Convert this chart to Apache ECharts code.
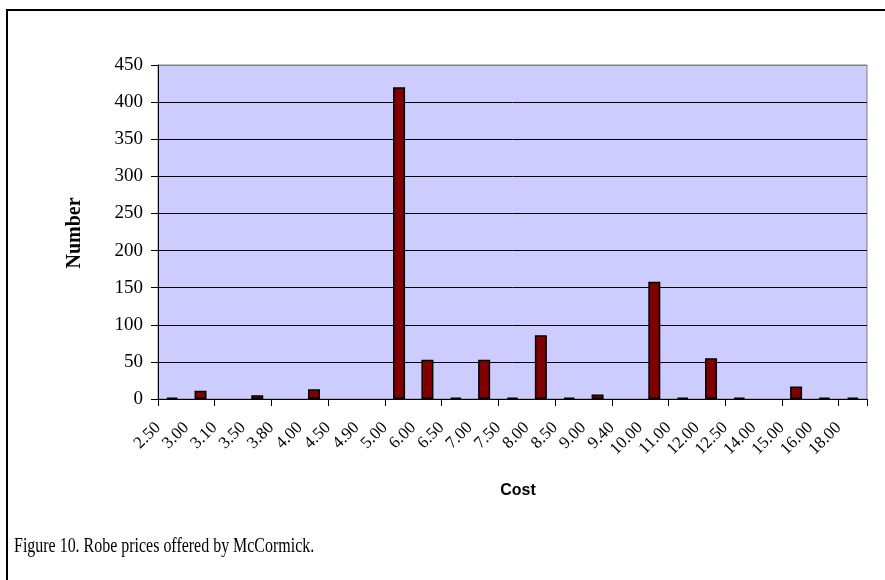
<!DOCTYPE html>
<html>
<head>
<meta charset="utf-8">
<script src="https://cdn.jsdelivr.net/npm/echarts@6/dist/echarts.min.js"></script>
<style>
html,body{margin:0;padding:0;background:#fff;}
#chart{width:885px;height:580px;}
</style>
</head>
<body>
<div id="chart"></div>
<script>
const categories = ['2.50','3.00','3.10','3.50','3.80','4.00','4.50','4.90','5.00','6.00','6.50','7.00','7.50','8.00','8.50','9.00','9.40','10.00','11.00','12.00','12.50','14.00','15.00','16.00','18.00'];
const counts = [2,11,0,5,0,13,0,0,420,53,2,53,2,86,2,6,0,158,2,55,2,0,17,2,2];
const yTicks = {min:0, max:450, interval:50};
const caption = 'Figure 10. Robe prices offered by McCormick.';

const chart = echarts.init(document.getElementById('chart'), null, {renderer:'canvas'});
const gridL = 158, gridR = 18, gridT = 65, gridB = 181;
const splitColors = ['#000','#000','#000','#000','#000','#000','#000','#000','#000','#808080'];
chart.setOption({
  animation:false,
  backgroundColor:'#ffffff',
  grid:{left:gridL, right:gridR, top:gridT, bottom:gridB, show:true, backgroundColor:'#CCCCFF', borderColor:'#808080', borderWidth:1},
  xAxis:[{
    type:'category', data:categories, gridIndex:0, position:'bottom',
    axisLine:{show:true, lineStyle:{color:'#000', width:1}},
    axisTick:{show:true, alignWithLabel:false, length:7, inside:false, lineStyle:{color:'#000'}},
    axisLabel:{show:false},
    splitLine:{show:false}
  },{
    type:'category', data:categories.concat(['']), gridIndex:0, position:'bottom', boundaryGap:false,
    axisLine:{show:false}, axisTick:{show:false}, splitLine:{show:false},
    axisLabel:{show:true, interval:0, rotate:45, margin:26, fontFamily:'Liberation Serif', fontSize:17, color:'#000'}
  }],
  yAxis:{
    type:'value', min:yTicks.min, max:yTicks.max, interval:yTicks.interval,
    axisLine:{show:true, lineStyle:{color:'#000', width:1}},
    axisTick:{show:true, length:7, lineStyle:{color:'#000'}},
    axisLabel:{margin:15, fontFamily:'Liberation Serif', fontSize:19, color:'#000'},
    splitLine:{show:true, lineStyle:{color:splitColors, width:1}}
  },
  series:[{
    type:'bar', data:counts.map(v => v === 0 ? null : v), xAxisIndex:0, barWidth:12,
    itemStyle:{color:'#800000', borderColor:'#000', borderWidth:1.5}
  }],
  graphic:[
    {type:'rect', shape:{x:7, y:10, width:900, height:600}, style:{fill:'none', stroke:'#000', lineWidth:2}, silent:true, z:-1},
    {type:'text', x:75, y:233, rotation:Math.PI/2, style:{text:'Number', font:'bold 20px "Liberation Serif"', fill:'#000', textAlign:'center', textVerticalAlign:'middle'}},
    {type:'text', x:518, y:491, style:{text:'Cost', font:'bold 16px "Liberation Sans"', fill:'#000', textAlign:'center', textVerticalAlign:'middle'}},
    {type:'text', x:14, y:546, scaleX:0.76, style:{text:caption, font:'21px "Liberation Serif"', fill:'#000', textAlign:'left', textVerticalAlign:'middle'}}
  ]
});
</script>
</body>
</html>
